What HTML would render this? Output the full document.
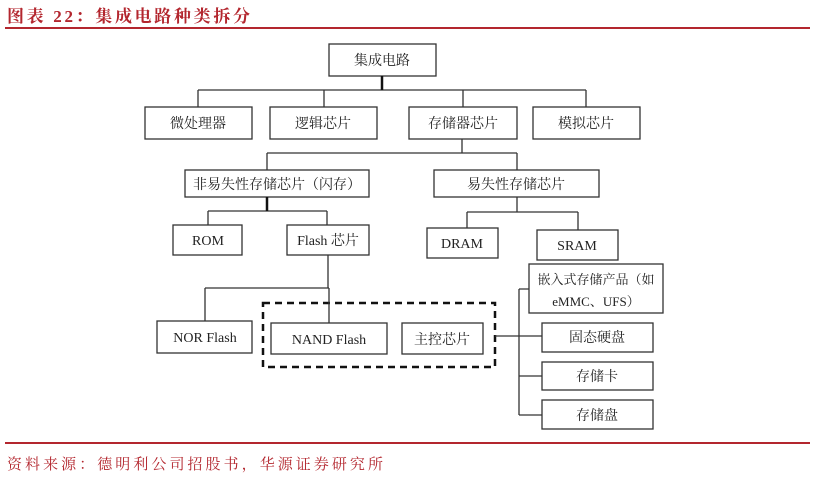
<!DOCTYPE html>
<html><head><meta charset="utf-8"><style>
html,body{margin:0;padding:0;background:#fff;width:815px;height:477px;overflow:hidden}
svg{display:block}
text{font-family:"Liberation Serif","Noto Serif CJK SC","Noto Sans CJK SC",serif;font-size:14px;fill:#222;}
.t{font-family:"Liberation Serif","Noto Serif CJK SC",serif;fill:#b3262e;}
</style></head><body>
<svg width="815" height="477" viewBox="0 0 815 477" xmlns="http://www.w3.org/2000/svg">
<text class="t" x="7" y="22" textLength="243" lengthAdjust="spacing" style="font-size:17px;font-weight:bold">图表 22：集成电路种类拆分</text>
<rect x="5" y="27" width="805" height="2" fill="#b3262e"/>
<rect x="5" y="442" width="805" height="2" fill="#b3262e"/>
<text class="t" x="7" y="469" textLength="376" lengthAdjust="spacing" style="font-size:15px">资料来源：德明利公司招股书，华源证券研究所</text>

<g stroke="#333" stroke-width="1.3" fill="none">
<rect x="329" y="44" width="107" height="32"/>
<rect x="145" y="107" width="107" height="32"/>
<rect x="270" y="107" width="107" height="32"/>
<rect x="409" y="107" width="108" height="32"/>
<rect x="533" y="107" width="107" height="32"/>
<rect x="185" y="170" width="184" height="27"/>
<rect x="434" y="170" width="165" height="27"/>
<rect x="173" y="225" width="69" height="30"/>
<rect x="287" y="225" width="82" height="30"/>
<rect x="427" y="228" width="71" height="30"/>
<rect x="537" y="230" width="81" height="30"/>
<rect x="157" y="321" width="95" height="32"/>
<rect x="271" y="323" width="116" height="31"/>
<rect x="402" y="323" width="81" height="31"/>
<rect x="529" y="264" width="134" height="49"/>
<rect x="542" y="323" width="111" height="29"/>
<rect x="542" y="362" width="111" height="28"/>
<rect x="542" y="400" width="111" height="29"/>
<rect x="263" y="303" width="232" height="64" stroke="#111" stroke-width="2.5" stroke-dasharray="7,5"/>
<path d="M382 76V90 M198 90H586 M198 90V107 M324 90V107 M463 90V107 M586 90V107" />
<path d="M462 139V153 M267 153H517 M267 153V170 M517 153V170"/>
<path d="M267 197V211 M208 211H327 M208 211V225 M327 211V225"/>
<path d="M517 197V212 M467 212H578 M467 212V228 M578 212V230"/>
<path d="M328 255V288 M205 288H329 M205 288V321 M329 288V323"/>
<path d="M495 336H519 M519 289V415 M519 289H529 M519 336H542 M519 376H542 M519 415H542"/>
</g>
<path d="M382 76V90" stroke="#111" stroke-width="2.5"/>
<path d="M267 197V211" stroke="#111" stroke-width="2.5"/>

<g text-anchor="middle">
<text x="382" y="65">集成电路</text>
<text x="198" y="128">微处理器</text>
<text x="323" y="128">逻辑芯片</text>
<text x="463" y="128">存储器芯片</text>
<text x="586" y="128">模拟芯片</text>
<text x="277" y="189">非易失性存储芯片（闪存）</text>
<text x="516" y="189">易失性存储芯片</text>
<text x="208" y="245">ROM</text>
<text x="328" y="245">Flash 芯片</text>
<text x="462" y="248">DRAM</text>
<text x="577" y="250">SRAM</text>
<text x="205" y="342">NOR Flash</text>
<text x="329" y="344">NAND Flash</text>
<text x="442" y="344">主控芯片</text>
<text x="596" y="284" style="font-size:13px">嵌入式存储产品（如</text>
<text x="596" y="306" style="font-size:13px">eMMC、UFS）</text>
<text x="597" y="342">固态硬盘</text>
<text x="597" y="381">存储卡</text>
<text x="597" y="420">存储盘</text>
</g>
</svg>
</body></html>
